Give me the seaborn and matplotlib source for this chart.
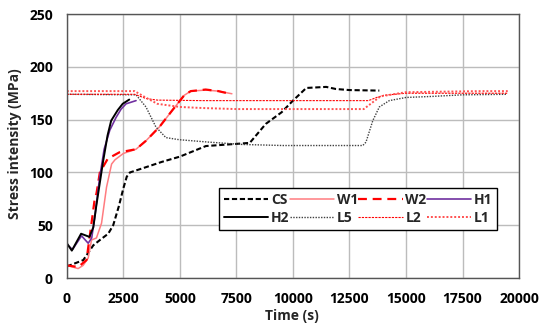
import pandas as pd
import matplotlib.pyplot as plt
import seaborn as sns
from matplotlib.ticker import MultipleLocator

# time (s) / stress intensity (MPa)
cs_t = [0, 725, 1170, 1460, 1830, 2050, 2300, 2500, 2650, 2790, 3500, 4200, 5000, 6150, 7470, 8090,
        8800, 9500, 10000, 10590, 11470, 11900, 12500, 13820]
cs_v = [11, 17, 31, 36, 42, 50, 68, 85, 96, 100, 105, 110, 115, 125, 127, 128,
        146, 157, 168, 180, 181, 179, 178, 177.5]

w1_t = [0, 500, 720, 945, 1090, 1310, 1535, 1755, 1980, 2130, 2500, 3060, 3500, 4090, 4670, 5190,
        5480, 6140, 6700, 7300]
w1_v = [12, 9, 12, 19, 36, 38, 52, 86, 108, 112, 118, 122, 130, 143, 159, 173,
        177, 178, 177, 174.5]

w2_t = [0, 500, 870, 1110, 1240, 1310, 1460, 1810, 2320, 3060, 3500, 4090, 4670, 5190, 5480, 6140,
        6700, 7200]
w2_v = [12, 10.5, 17, 55, 76, 80, 100, 113, 119, 122, 130, 143, 159, 173, 177, 178.5,
        177, 174.5]

h1_t = [0, 250, 650, 945, 1100, 1250, 1450, 1650, 1900, 2175, 2400, 2620, 3060]
h1_v = [32, 27, 40, 33, 38, 60, 95, 122, 140, 152, 160, 165, 168]

h2_t = [0, 220, 630, 1000, 1170, 1300, 1600, 1800, 1960, 2250, 2470, 2760]
h2_v = [33, 26, 42, 39, 48, 68, 110, 135, 149, 159, 165, 169]

l5_t = [0, 3060, 3500, 3940, 4380, 4970, 6290, 7760, 9560, 13090, 13230, 13530, 13820, 14260,
        15000, 16170, 17500, 19480]
l5_v = [174, 173.5, 162, 143, 133, 131, 128.7, 126.5, 125.5, 125.5, 128.7, 149, 162, 168,
        171, 172, 173.5, 174]

l2_t = [0, 3000, 3500, 4000, 6000, 10000, 13340, 13700, 14000, 15000, 19500]
l2_v = [174, 174, 170, 168.5, 168, 168, 168, 171, 173, 175, 175]

l1_t = [0, 3000, 3400, 4000, 5000, 6000, 7500, 11000, 13130, 13500, 13870, 15000, 18300, 19500]
l1_v = [177, 177, 172, 165, 162, 161, 160, 160, 160, 166, 172, 176, 177, 177]

series = [
    ('CS', cs_t, cs_v, dict(color='black', lw=1.5, dashes=(2.5, 1.3))),
    ('W1', w1_t, w1_v, dict(color='#ff7c80', lw=1.1)),
    ('W2', w2_t, w2_v, dict(color='#ff0000', lw=1.6, dashes=(4, 2.6))),
    ('H1', h1_t, h1_v, dict(color='#7030a0', lw=1.2)),
    ('H2', h2_t, h2_v, dict(color='black', lw=1.4)),
    ('L5', l5_t, l5_v, dict(color='#404040', lw=1.0, dashes=(1, 1))),
    ('L2', l2_t, l2_v, dict(color='#ff0000', lw=0.8, dashes=(2, 1))),
    ('L1', l1_t, l1_v, dict(color='#ff5050', lw=1.4, dashes=(1, 1))),
]

frames = []
for name, t, v, _ in series:
    frames.append(pd.DataFrame({'series': name, 'time': t, 'stress': v}))
df = pd.concat(frames, ignore_index=True)

sns.set_style('white')
plt.rcParams['font.family'] = ['Open Sans', 'DejaVu Sans']
plt.rcParams['font.weight'] = 'bold'

fig = plt.figure(figsize=(5.39, 3.26), dpi=100)
ax = fig.add_axes([0.124, 0.147, 0.839, 0.810])

handles = {}
for name, t, v, st in series:
    sub = df[df['series'] == name]
    kw = dict(color=st['color'], lw=st['lw'])
    if 'dashes' in st:
        kw['dashes'] = [st['dashes']]
        kw['style'] = sub['series']
    sns.lineplot(data=sub, x='time', y='stress', ax=ax, sort=False, estimator=None, legend=False, **kw)
    handles[name] = ax.lines[-1]

ax.set_xlim(0, 20000)
ax.set_ylim(0, 250)
ax.xaxis.set_major_locator(MultipleLocator(2500))
ax.xaxis.set_minor_locator(MultipleLocator(500))
ax.yaxis.set_major_locator(MultipleLocator(50))
ax.yaxis.set_minor_locator(MultipleLocator(10))
ax.grid(True, which='major', color='#bcbcbc', lw=1.0)
ax.set_axisbelow(True)
ax.tick_params(which='both', direction='in', colors='#404040', labelcolor='black', labelsize=10, pad=10)
ax.tick_params(which='major', length=4, width=0.8)
ax.tick_params(which='minor', length=3, width=0.8)
for lab in ax.get_xticklabels() + ax.get_yticklabels():
    lab.set_fontweight('bold')
for s in ax.spines.values():
    s.set_color('#555555')
    s.set_linewidth(1.0)

ax.set_xlabel('Time (s)', fontsize=10, fontweight='bold', va='center')
ax.set_ylabel('Stress intensity (MPa)', fontsize=10, fontweight='bold', va='center')
ax.xaxis.set_label_coords(0.498, -0.144)
ax.yaxis.set_label_coords(-0.115, 0.508)

order = ['CS', 'H2', 'W1', 'L5', 'W2', 'L2', 'H1', 'L1']
leg = ax.legend([handles[n] for n in order], order, ncol=4, loc='lower left',
                bbox_to_anchor=(0.321, 0.155, 0.646, 0.171), mode='expand',
                prop={'weight': 'bold', 'size': 10}, handlelength=3.2, handletextpad=0.2,
                columnspacing=0.8, labelspacing=0.3, borderpad=0.35,
                frameon=True, fancybox=False, edgecolor='black', framealpha=1)
leg.get_frame().set_linewidth(1.0)

fig.savefig('out.png', dpi=100)
